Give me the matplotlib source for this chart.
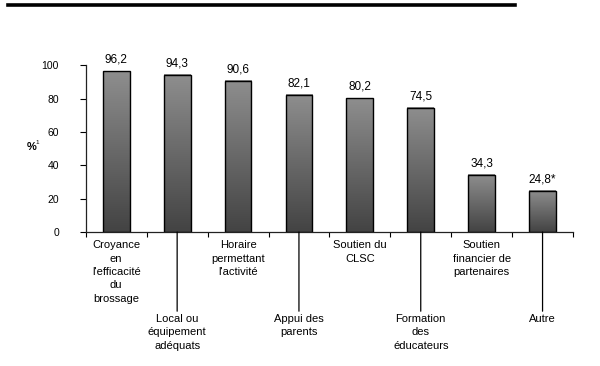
import numpy as np
import matplotlib
matplotlib.use("Agg")
import matplotlib.pyplot as plt
from matplotlib.lines import Line2D

plt.rcParams['font.family'] = ['Liberation Sans', 'DejaVu Sans']

categories = [
    "Croyance\nen\nl'efficacité\ndu\nbrossage",
    "Local ou\néquipement\nadéquats",
    "Horaire\npermettant\nl'activité",
    "Appui des\nparents",
    "Soutien du\nCLSC",
    "Formation\ndes\néducateurs",
    "Soutien\nfinancier de\npartenaires",
    "Autre",
]
values = [96.2, 94.3, 90.6, 82.1, 80.2, 74.5, 34.3, 24.8]
value_labels = ["96,2", "94,3", "90,6", "82,1", "80,2", "74,5", "34,3", "24,8*"]
yticks = [0, 20, 40, 60, 80, 100]

fig = plt.figure(figsize=(6, 3.66), dpi=100)
ax = fig.add_axes([0.143, 0.366, 0.812, 0.456])

x = np.arange(len(values))
width = 0.44

# grey gradient inside each bar, light on top, dark at the bottom
grad = np.linspace(0, 1, 256).reshape(-1, 1)
cmap = matplotlib.colors.LinearSegmentedColormap.from_list('g', ['#434343', '#8e8e8e'])
for xi, v in zip(x, values):
    ax.imshow(grad, cmap=cmap, origin='lower', aspect='auto',
              extent=(xi - width / 2, xi + width / 2, 0, v), zorder=1)
ax.bar(x, values, width=width, facecolor='none', edgecolor='black',
       linewidth=1.0, zorder=2)

for xi, v, lab in zip(x, values, value_labels):
    ax.annotate(lab, (xi, v), xytext=(0, 4), textcoords='offset points',
                ha='center', va='bottom', fontsize=8.5)

ax.set_xlim(-0.5, len(values) - 0.5)
ax.set_ylim(0, 100)
ax.set_yticks(yticks)
ax.set_yticklabels([str(t) for t in yticks], fontsize=7.5)
ax.set_xticks(np.arange(-0.5, len(values), 1.0))
ax.set_xticklabels([])
ax.tick_params(axis='y', direction='out', length=4.3, width=0.8, pad=15)
ax.tick_params(axis='x', direction='out', length=3.6, width=0.8)
for s in ['top', 'right']:
    ax.spines[s].set_visible(False)
for s in ['left', 'bottom']:
    ax.spines[s].set_linewidth(0.9)
    ax.spines[s].set_color('#222222')

# category labels, every second one dropped lower with a leader line
trans = ax.get_xaxis_transform()
for i, lab in enumerate(categories):
    if i % 2 == 0:
        ax.annotate(lab, (i, 0), xycoords=trans, xytext=(0, -6),
                    textcoords='offset points', ha='center', va='top',
                    fontsize=8, linespacing=1.42)
    else:
        ax.annotate(lab, (i, 0), xycoords=trans, xytext=(0, -59),
                    textcoords='offset points', ha='center', va='top',
                    fontsize=8, linespacing=1.42)
        ax.annotate('', (i, 0), xycoords=trans, xytext=(0, -57),
                    textcoords='offset points',
                    arrowprops=dict(arrowstyle='-', color='black', lw=0.9,
                                    shrinkA=0, shrinkB=0))

ax.text(-0.112, 0.51, '%', transform=ax.transAxes, fontsize=8,
        fontweight='bold', ha='center', va='center')
ax.text(-0.100, 0.535, '1', transform=ax.transAxes, fontsize=4.5,
        ha='center', va='center')

fig.add_artist(Line2D([0.013, 0.858], [0.986, 0.986], color='black',
                      linewidth=2.6, transform=fig.transFigure))

fig.savefig('out.png', dpi=100, facecolor='white')
